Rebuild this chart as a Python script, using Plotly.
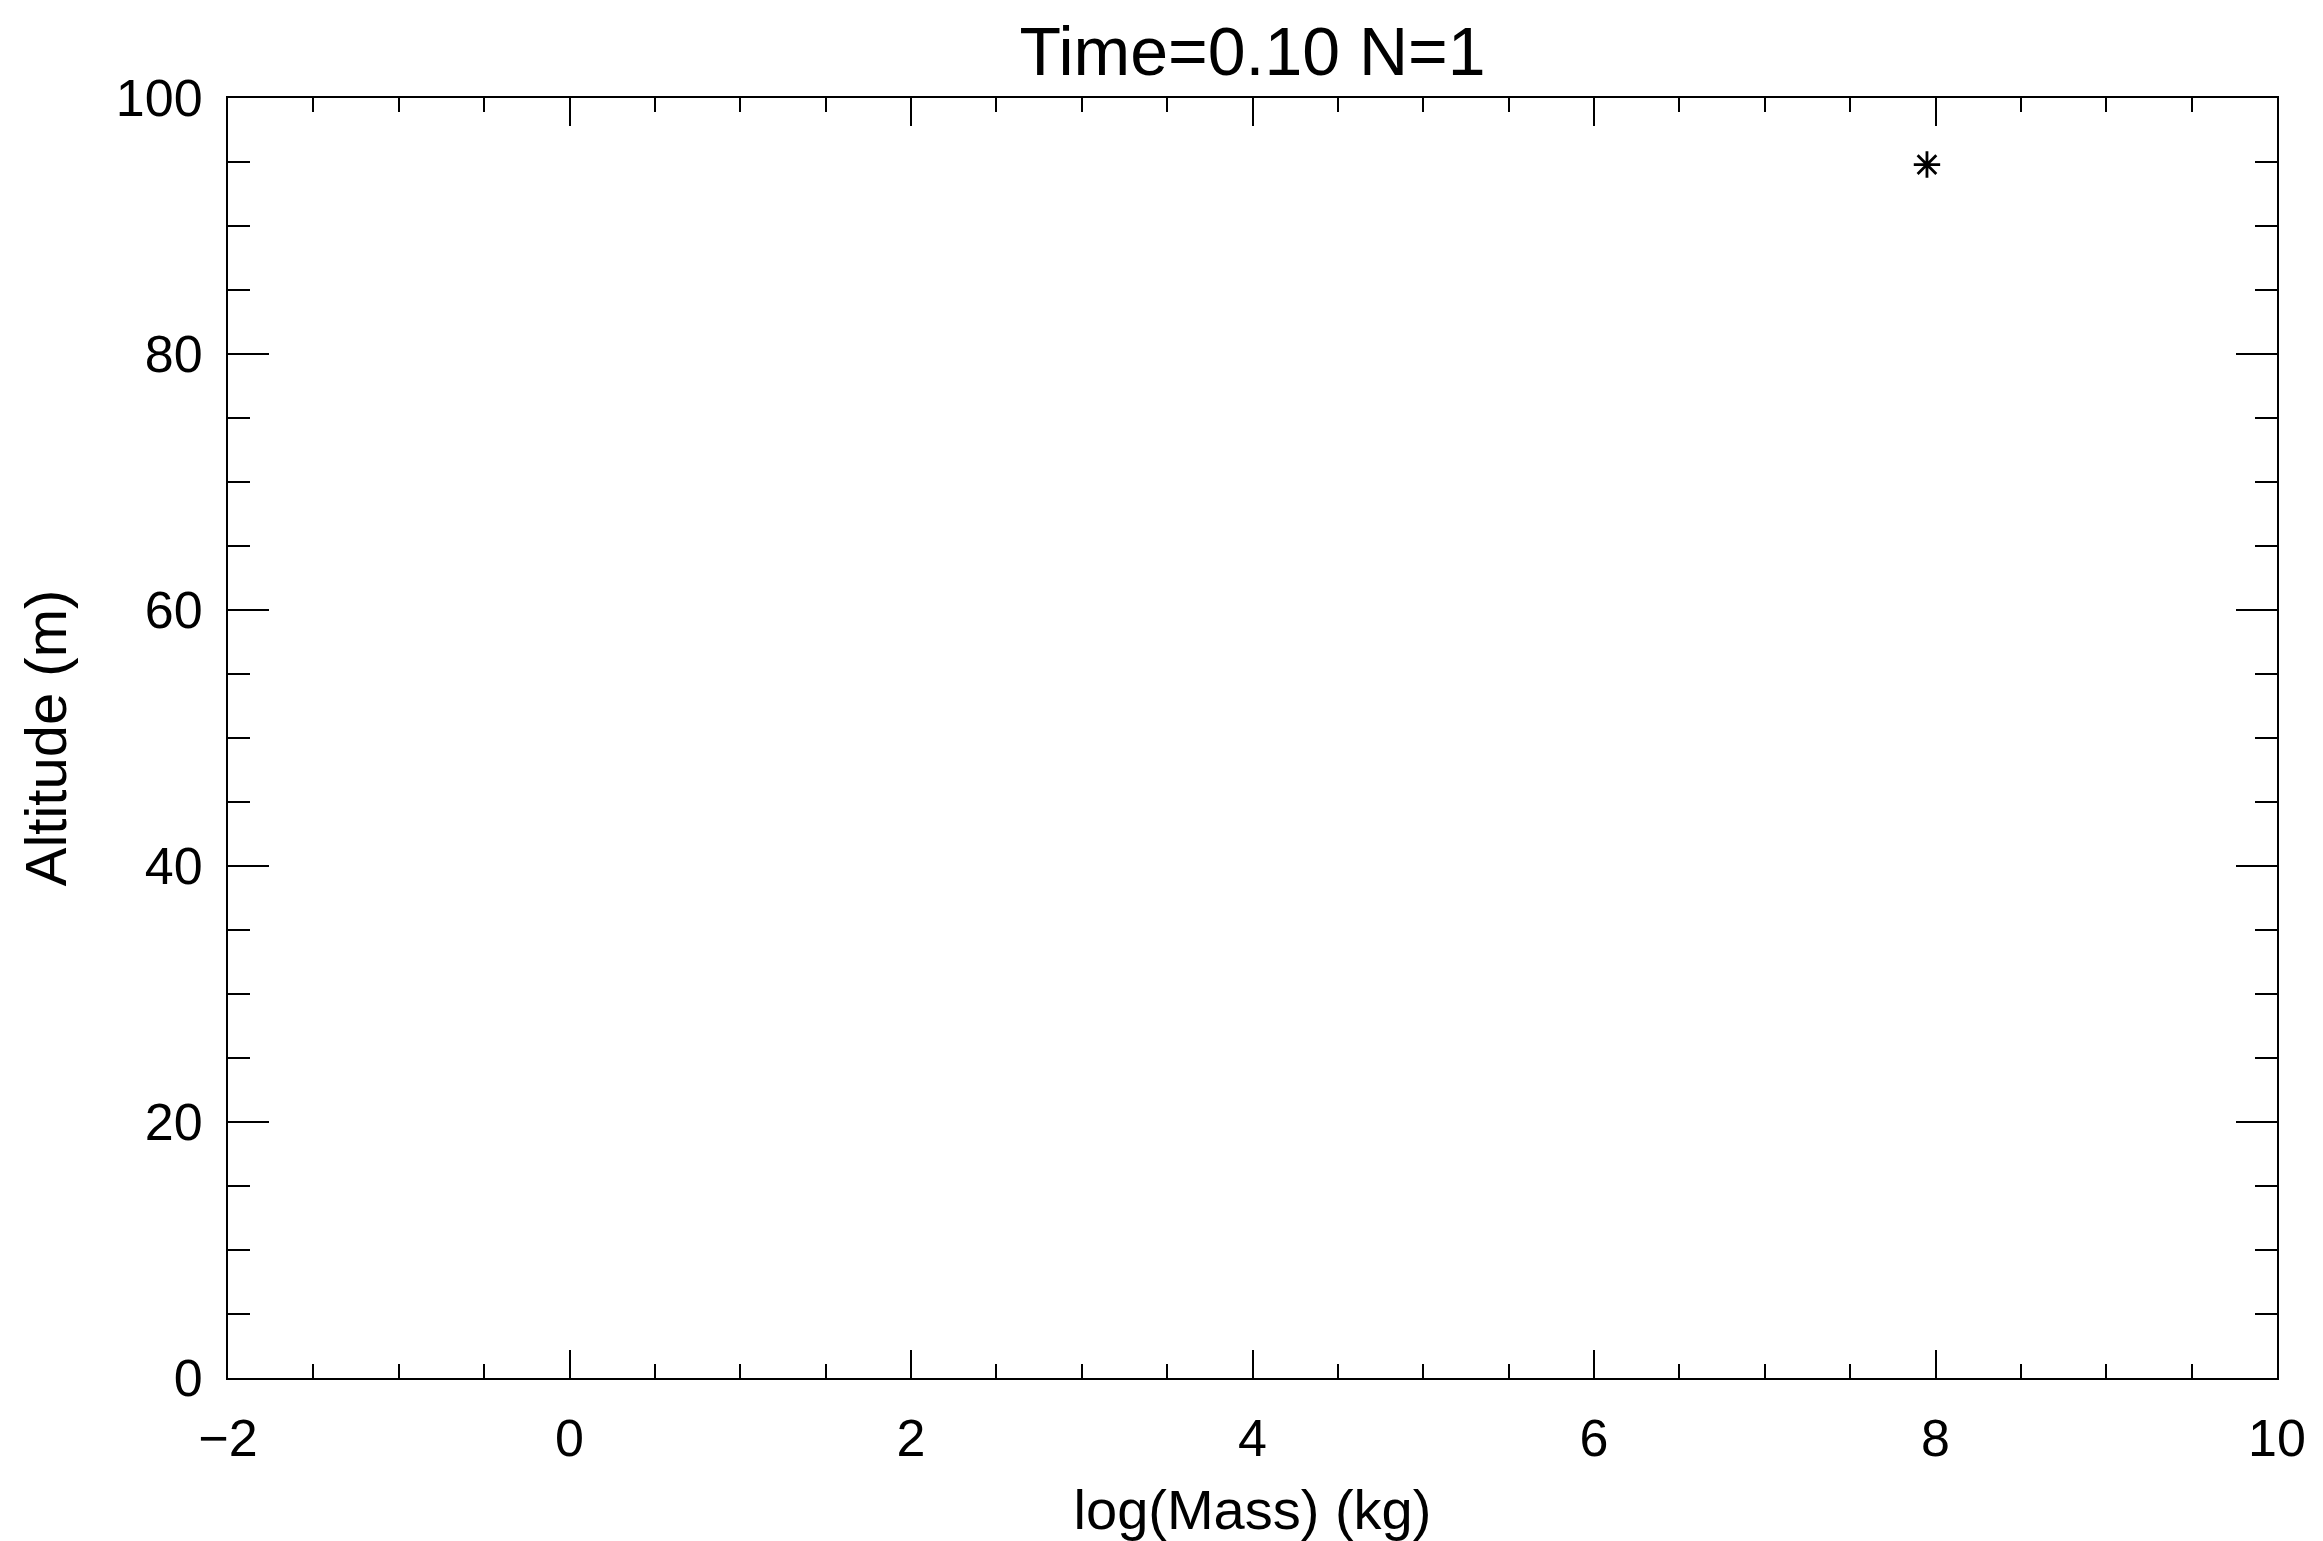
import plotly.graph_objects as go

# Data
log_mass = [7.95]
altitude = [94.8]

title_text = "Time=0.10 N=1"
x_title = "log(Mass) (kg)"
y_title = "Altitude (m)"
x_ticks = [-2, 0, 2, 4, 6, 8, 10]
y_ticks = [0, 20, 40, 60, 80, 100]

FONT = "Liberation Sans, Arial, sans-serif"

fig = go.Figure()
fig.add_trace(go.Scatter(
    x=log_mass, y=altitude, mode="markers",
    marker=dict(symbol="asterisk-open", size=22, color="black",
                line=dict(color="black", width=2.8)),
    showlegend=False, hoverinfo="skip",
))

# page body has an 8px margin, so the figure is offset by 8px
fig.update_layout(
    width=2307, height=1533,
    margin=dict(l=220, r=38, t=90, b=163, autoexpand=False),
    paper_bgcolor="white", plot_bgcolor="white",
    font=dict(family=FONT, color="black"),
    title=dict(text=title_text, x=0.5, xref="paper", xanchor="center",
               y=1 - 43 / 1533, yanchor="middle",
               font=dict(size=68, family=FONT, color="black")),
)

fig.update_xaxes(
    range=[-2, 10], tickvals=x_ticks, ticktext=[str(v).replace("-", "\u2212") for v in x_ticks],
    showgrid=False, zeroline=False, automargin=False,
    showline=True, linecolor="black", linewidth=2, mirror="allticks",
    ticks="inside", ticklen=28, tickwidth=2, tickcolor="black",
    ticklabelstandoff=14,
    tickfont=dict(size=52, family=FONT, color="black"),
    minor=dict(ticks="inside", dtick=0.5, ticklen=14, tickwidth=2, tickcolor="black", showgrid=False),
    title=dict(text=x_title, standoff=26, font=dict(size=56, family=FONT, color="black")),
)
fig.update_yaxes(
    range=[0, 100], tickvals=y_ticks,
    showgrid=False, zeroline=False, automargin=False,
    showline=True, linecolor="black", linewidth=2, mirror="allticks",
    ticks="inside", ticklen=41, tickwidth=2, tickcolor="black",
    ticklabelstandoff=13,
    tickfont=dict(size=52, family=FONT, color="black"),
    minor=dict(ticks="inside", dtick=5, ticklen=22, tickwidth=2, tickcolor="black", showgrid=False),
    title=dict(text=y_title, standoff=31, font=dict(size=58, family=FONT, color="black")),
)

fig.write_html("out.html")
